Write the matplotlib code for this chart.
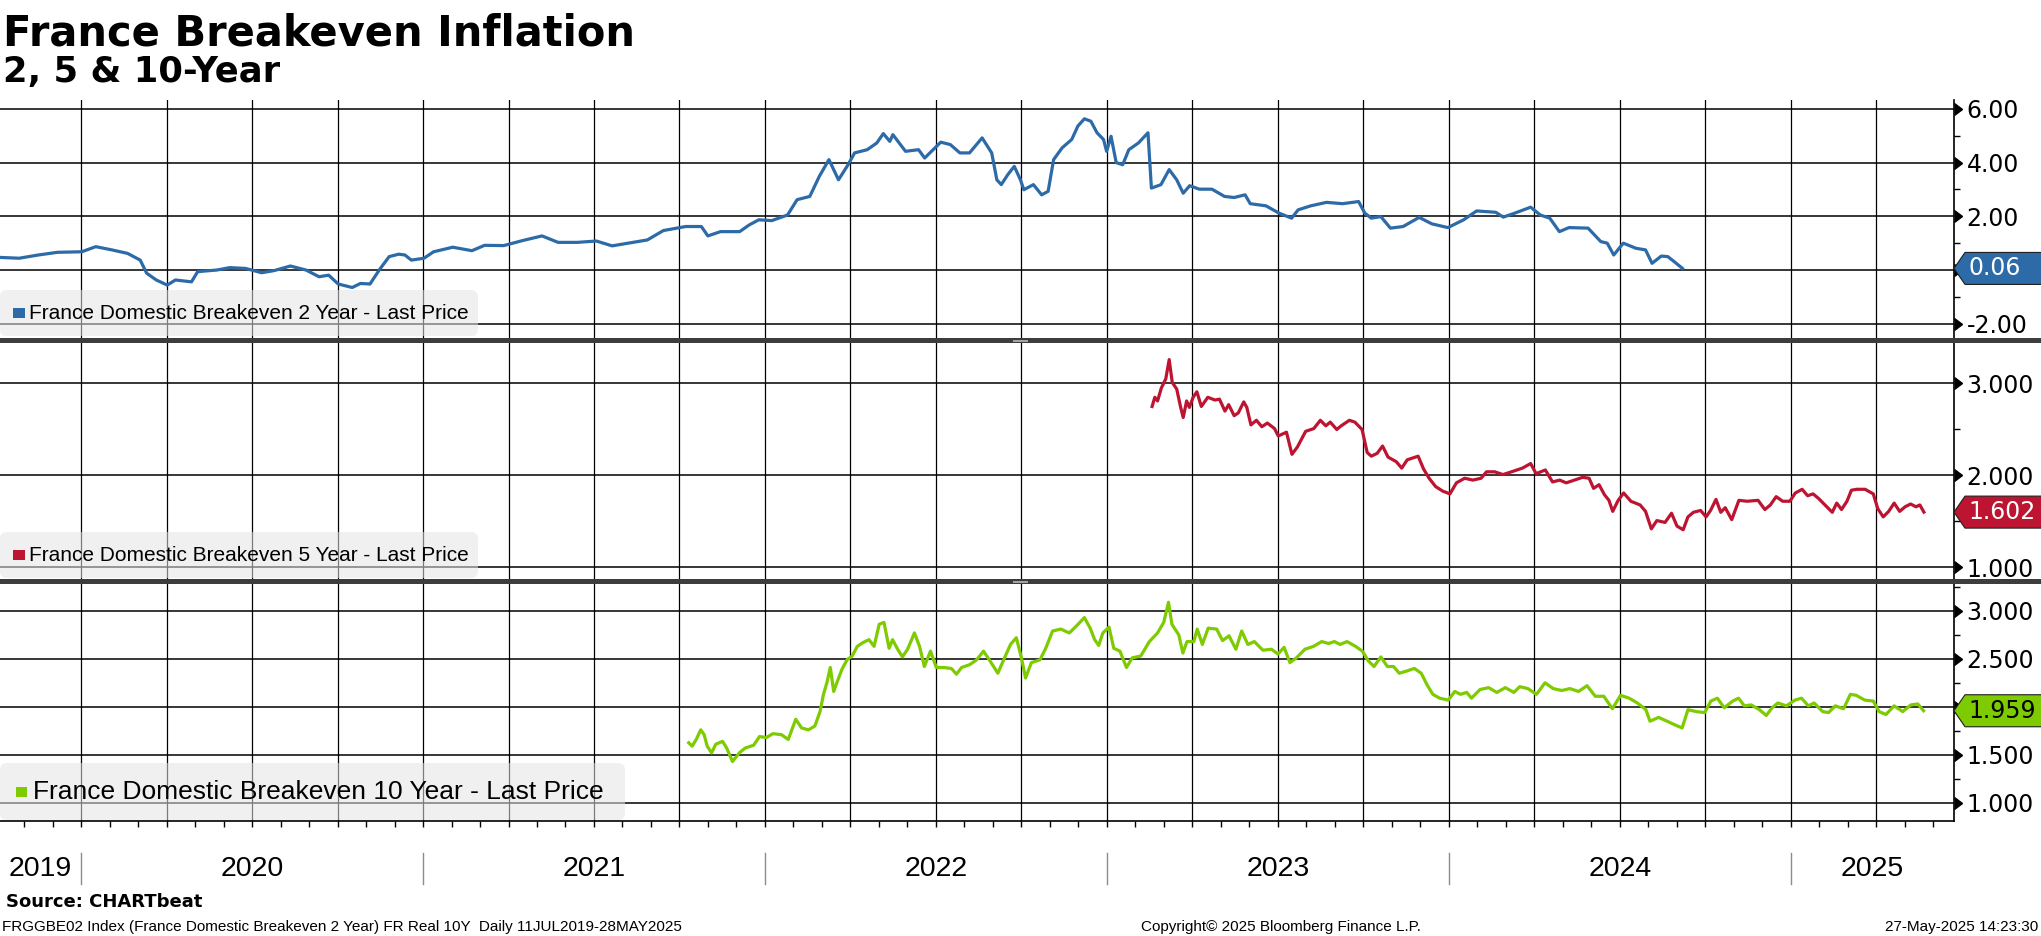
import matplotlib
matplotlib.use("Agg")
import matplotlib.pyplot as plt
from matplotlib.patches import Polygon, Rectangle, FancyBboxPatch
from matplotlib.lines import Line2D
from matplotlib.transforms import blended_transform_factory, IdentityTransform
from matplotlib.ticker import MultipleLocator, FuncFormatter

W, H = 2041, 936
NARROW = ["Liberation Sans", "DejaVu Sans"]

title = "France Breakeven Inflation"
subtitle = "2, 5 & 10-Year"
source = "Source: CHARTbeat"
footer_left = "FRGGBE02 Index (France Domestic Breakeven 2 Year) FR Real 10Y  Daily 11JUL2019-28MAY2025"
footer_mid = "Copyright\u00a9 2025 Bloomberg Finance L.P."
footer_right = "27-May-2025 14:23:30"

x_start, x_end = 2019.763, 2025.477
years = [2019, 2020, 2021, 2022, 2023, 2024, 2025]

# (decimal year, value)
be2 = [(2019.763, 0.47), (2019.819, 0.44), (2019.875, 0.56), (2019.931, 0.66), (2020.002, 0.68),
       (2020.043, 0.87), (2020.090, 0.75), (2020.136, 0.62), (2020.173, 0.37), (2020.192, -0.12),
       (2020.220, -0.37), (2020.252, -0.56), (2020.276, -0.37), (2020.323, -0.44), (2020.341, -0.06),
       (2020.397, 0.00), (2020.435, 0.09), (2020.481, 0.06), (2020.528, -0.10), (2020.565, -0.02),
       (2020.612, 0.15), (2020.658, 0.00), (2020.696, -0.25), (2020.724, -0.19), (2020.752, -0.52),
       (2020.793, -0.65), (2020.817, -0.50), (2020.845, -0.52), (2020.873, 0.02), (2020.901, 0.50),
       (2020.929, 0.59), (2020.947, 0.56), (2020.966, 0.37), (2021.003, 0.44), (2021.031, 0.68),
       (2021.087, 0.85), (2021.143, 0.72), (2021.180, 0.92), (2021.236, 0.91), (2021.292, 1.10),
       (2021.348, 1.27), (2021.395, 1.03), (2021.451, 1.03), (2021.507, 1.08), (2021.553, 0.90),
       (2021.609, 1.02), (2021.656, 1.12), (2021.703, 1.47), (2021.768, 1.62), (2021.814, 1.62),
       (2021.833, 1.27), (2021.870, 1.43), (2021.926, 1.43), (2021.954, 1.68), (2021.982, 1.87),
       (2022.020, 1.84), (2022.066, 2.05), (2022.094, 2.62), (2022.131, 2.74), (2022.159, 3.49),
       (2022.187, 4.11), (2022.215, 3.36), (2022.243, 3.92), (2022.262, 4.36), (2022.299, 4.48),
       (2022.327, 4.73), (2022.346, 5.08), (2022.365, 4.79), (2022.374, 5.04), (2022.411, 4.42),
       (2022.449, 4.48), (2022.467, 4.17), (2022.514, 4.76), (2022.542, 4.67), (2022.570, 4.36),
       (2022.598, 4.36), (2022.635, 4.92), (2022.663, 4.36), (2022.678, 3.36), (2022.691, 3.18),
       (2022.710, 3.55), (2022.729, 3.86), (2022.747, 3.36), (2022.757, 2.99), (2022.785, 3.18),
       (2022.809, 2.80), (2022.828, 2.93), (2022.844, 4.11), (2022.869, 4.55), (2022.897, 4.86),
       (2022.915, 5.36), (2022.934, 5.63), (2022.953, 5.54), (2022.971, 5.11), (2022.990, 4.86),
       (2022.999, 4.42), (2023.012, 4.98), (2023.027, 4.00), (2023.046, 3.92), (2023.064, 4.48),
       (2023.092, 4.73), (2023.120, 5.11), (2023.130, 3.05), (2023.158, 3.18), (2023.182, 3.74),
       (2023.204, 3.36), (2023.223, 2.86), (2023.242, 3.14), (2023.270, 3.01), (2023.307, 3.01),
       (2023.344, 2.74), (2023.372, 2.70), (2023.404, 2.80), (2023.419, 2.47), (2023.465, 2.39),
       (2023.503, 2.12), (2023.540, 1.93), (2023.559, 2.24), (2023.596, 2.39), (2023.642, 2.52),
       (2023.689, 2.47), (2023.736, 2.55), (2023.754, 2.12), (2023.773, 1.93), (2023.801, 1.99),
       (2023.829, 1.56), (2023.866, 1.62), (2023.913, 1.96), (2023.950, 1.72), (2023.997, 1.58),
       (2024.043, 1.87), (2024.081, 2.20), (2024.137, 2.15), (2024.159, 1.97), (2024.193, 2.12),
       (2024.239, 2.34), (2024.267, 2.05), (2024.295, 1.93), (2024.323, 1.43), (2024.351, 1.58),
       (2024.407, 1.56), (2024.444, 1.06), (2024.463, 1.00), (2024.482, 0.56), (2024.510, 1.00),
       (2024.547, 0.81), (2024.575, 0.75), (2024.594, 0.25), (2024.621, 0.52), (2024.640, 0.50),
       (2024.659, 0.31), (2024.683, 0.06)]

be5 = [(2023.132, 2.75), (2023.140, 2.85), (2023.148, 2.81), (2023.159, 2.95), (2023.172, 3.05),
       (2023.182, 3.26), (2023.191, 3.01), (2023.204, 2.94), (2023.215, 2.75), (2023.223, 2.63),
       (2023.233, 2.81), (2023.241, 2.74), (2023.252, 2.85), (2023.263, 2.91), (2023.276, 2.75),
       (2023.295, 2.85), (2023.316, 2.82), (2023.329, 2.83), (2023.345, 2.70), (2023.356, 2.77),
       (2023.372, 2.65), (2023.384, 2.68), (2023.400, 2.80), (2023.409, 2.74), (2023.421, 2.55),
       (2023.437, 2.60), (2023.453, 2.53), (2023.469, 2.57), (2023.490, 2.51), (2023.501, 2.43),
       (2023.525, 2.47), (2023.541, 2.23), (2023.557, 2.31), (2023.581, 2.48), (2023.605, 2.51),
       (2023.624, 2.60), (2023.640, 2.54), (2023.653, 2.58), (2023.672, 2.50), (2023.685, 2.54),
       (2023.709, 2.60), (2023.725, 2.58), (2023.746, 2.50), (2023.761, 2.25), (2023.773, 2.21),
       (2023.790, 2.24), (2023.806, 2.32), (2023.822, 2.20), (2023.846, 2.15), (2023.862, 2.08),
       (2023.878, 2.17), (2023.894, 2.19), (2023.910, 2.21), (2023.926, 2.07), (2023.942, 1.97),
       (2023.961, 1.88), (2023.982, 1.83), (2024.003, 1.80), (2024.022, 1.92), (2024.046, 1.97),
       (2024.070, 1.95), (2024.094, 1.97), (2024.110, 2.04), (2024.134, 2.04), (2024.158, 2.01),
       (2024.183, 2.04), (2024.215, 2.08), (2024.239, 2.13), (2024.255, 2.02), (2024.282, 2.06),
       (2024.303, 1.93), (2024.324, 1.95), (2024.343, 1.92), (2024.367, 1.95), (2024.391, 1.98),
       (2024.410, 1.97), (2024.423, 1.86), (2024.439, 1.90), (2024.455, 1.79), (2024.468, 1.73),
       (2024.479, 1.61), (2024.495, 1.73), (2024.511, 1.81), (2024.532, 1.72), (2024.559, 1.68),
       (2024.575, 1.61), (2024.592, 1.42), (2024.608, 1.51), (2024.632, 1.49), (2024.651, 1.59),
       (2024.667, 1.45), (2024.685, 1.41), (2024.699, 1.55), (2024.715, 1.60), (2024.736, 1.62),
       (2024.752, 1.55), (2024.765, 1.62), (2024.781, 1.74), (2024.795, 1.60), (2024.808, 1.65),
       (2024.827, 1.52), (2024.848, 1.73), (2024.872, 1.72), (2024.904, 1.73), (2024.924, 1.63),
       (2024.940, 1.68), (2024.957, 1.77), (2024.976, 1.72), (2024.997, 1.72), (2025.013, 1.81),
       (2025.033, 1.85), (2025.049, 1.78), (2025.065, 1.80), (2025.081, 1.75), (2025.105, 1.66),
       (2025.121, 1.60), (2025.134, 1.70), (2025.148, 1.63), (2025.164, 1.72), (2025.177, 1.84),
       (2025.193, 1.85), (2025.217, 1.85), (2025.241, 1.80), (2025.254, 1.64), (2025.270, 1.55),
       (2025.286, 1.61), (2025.302, 1.70), (2025.318, 1.61), (2025.334, 1.66), (2025.350, 1.69),
       (2025.366, 1.66), (2025.377, 1.68), (2025.389, 1.602)]

be10 = [(2021.777, 1.625), (2021.787, 1.59), (2021.799, 1.66), (2021.812, 1.76), (2021.822, 1.71),
        (2021.831, 1.59), (2021.844, 1.52), (2021.856, 1.61), (2021.876, 1.64), (2021.888, 1.57),
        (2021.905, 1.43), (2021.925, 1.52), (2021.942, 1.57), (2021.967, 1.60), (2021.984, 1.69),
        (2022.004, 1.68), (2022.023, 1.72), (2022.048, 1.71), (2022.068, 1.66), (2022.090, 1.87),
        (2022.107, 1.78), (2022.127, 1.76), (2022.146, 1.80), (2022.161, 1.95), (2022.171, 2.13),
        (2022.181, 2.25), (2022.191, 2.41), (2022.201, 2.16), (2022.210, 2.25), (2022.225, 2.39),
        (2022.240, 2.49), (2022.255, 2.53), (2022.270, 2.63), (2022.287, 2.67), (2022.304, 2.70),
        (2022.319, 2.63), (2022.334, 2.86), (2022.348, 2.88), (2022.363, 2.61), (2022.373, 2.70),
        (2022.388, 2.60), (2022.402, 2.52), (2022.417, 2.60), (2022.437, 2.77), (2022.452, 2.63),
        (2022.466, 2.42), (2022.484, 2.58), (2022.501, 2.41), (2022.521, 2.41), (2022.545, 2.40),
        (2022.560, 2.34), (2022.575, 2.41), (2022.599, 2.44), (2022.619, 2.49), (2022.639, 2.58),
        (2022.656, 2.49), (2022.681, 2.35), (2022.698, 2.49), (2022.718, 2.65), (2022.735, 2.72),
        (2022.750, 2.51), (2022.762, 2.30), (2022.779, 2.46), (2022.804, 2.49), (2022.821, 2.61),
        (2022.841, 2.79), (2022.865, 2.81), (2022.890, 2.77), (2022.910, 2.84), (2022.934, 2.93),
        (2022.951, 2.82), (2022.964, 2.70), (2022.976, 2.64), (2022.988, 2.77), (2023.006, 2.83),
        (2023.020, 2.61), (2023.038, 2.58), (2023.057, 2.41), (2023.074, 2.51), (2023.099, 2.53),
        (2023.124, 2.68), (2023.148, 2.77), (2023.166, 2.88), (2023.180, 3.09), (2023.190, 2.86),
        (2023.210, 2.75), (2023.222, 2.56), (2023.234, 2.68), (2023.254, 2.68), (2023.264, 2.81),
        (2023.279, 2.65), (2023.296, 2.82), (2023.321, 2.81), (2023.338, 2.69), (2023.357, 2.74),
        (2023.377, 2.60), (2023.394, 2.79), (2023.412, 2.65), (2023.431, 2.68), (2023.456, 2.59),
        (2023.481, 2.60), (2023.500, 2.55), (2023.518, 2.62), (2023.535, 2.46), (2023.554, 2.51),
        (2023.579, 2.60), (2023.604, 2.63), (2023.628, 2.68), (2023.648, 2.66), (2023.665, 2.68),
        (2023.682, 2.65), (2023.702, 2.68), (2023.727, 2.63), (2023.747, 2.58), (2023.764, 2.48),
        (2023.781, 2.42), (2023.801, 2.52), (2023.820, 2.42), (2023.838, 2.42), (2023.855, 2.35),
        (2023.874, 2.37), (2023.899, 2.40), (2023.919, 2.35), (2023.936, 2.23), (2023.953, 2.13),
        (2023.973, 2.09), (2023.998, 2.07), (2024.017, 2.16), (2024.034, 2.13), (2024.052, 2.15),
        (2024.066, 2.09), (2024.091, 2.18), (2024.116, 2.20), (2024.140, 2.15), (2024.165, 2.20),
        (2024.190, 2.15), (2024.207, 2.21), (2024.231, 2.19), (2024.256, 2.13), (2024.281, 2.25),
        (2024.305, 2.19), (2024.330, 2.17), (2024.354, 2.19), (2024.379, 2.16), (2024.404, 2.22),
        (2024.428, 2.11), (2024.453, 2.11), (2024.478, 1.98), (2024.502, 2.12), (2024.527, 2.09),
        (2024.551, 2.04), (2024.576, 1.97), (2024.588, 1.85), (2024.613, 1.89), (2024.638, 1.85),
        (2024.662, 1.81), (2024.682, 1.78), (2024.699, 1.97), (2024.724, 1.95), (2024.748, 1.94),
        (2024.766, 2.06), (2024.785, 2.09), (2024.805, 1.99), (2024.830, 2.06), (2024.847, 2.09),
        (2024.864, 2.01), (2024.884, 2.02), (2024.908, 1.97), (2024.928, 1.91), (2024.945, 1.99),
        (2024.962, 2.04), (2024.987, 2.01), (2025.012, 2.07), (2025.031, 2.09), (2025.051, 2.01),
        (2025.068, 2.04), (2025.093, 1.95), (2025.110, 1.94), (2025.130, 2.01), (2025.154, 1.98),
        (2025.174, 2.13), (2025.191, 2.12), (2025.216, 2.07), (2025.241, 2.06), (2025.258, 1.95),
        (2025.278, 1.92), (2025.302, 2.01), (2025.327, 1.95), (2025.351, 2.02), (2025.371, 2.03),
        (2025.388, 1.959)]

series = [
    dict(data=be2, color="#2c6aa8", ylim=(-2.53, 6.33), major=2.0, minor=1.0, fmt="%.2f",
         label="France Domestic Breakeven 2 Year - Last Price", tag_fg="white"),
    dict(data=be5, color="#bd1431", ylim=(0.875, 3.44), major=1.0, minor=0.5, fmt="%.3f",
         label="France Domestic Breakeven 5 Year - Last Price", tag_fg="white"),
    dict(data=be10, color="#7dcb00", ylim=(0.81, 3.28), major=0.5, minor=0.25, fmt="%.3f",
         label="France Domestic Breakeven 10 Year - Last Price", tag_fg="black"),
]

# pixel layout (measured from top-left)
panel_px = [(100, 338), (343, 579), (584, 821)]
axis_right = 1954
legend_px = [
    dict(box=(0, 290, 478, 336), mark=(13, 308, 25, 318), text=(29, 313.5), size=15),
    dict(box=(0, 532, 478, 578), mark=(13, 550, 25, 560), text=(29, 555.5), size=15),
    dict(box=(0, 763, 625, 820), mark=(16, 787, 27, 797), text=(33, 792), size=19),
]

fig = plt.figure(figsize=(W / 100, H / 100), dpi=100)
fig.patch.set_facecolor("white")
pix = IdentityTransform()


def tick_fmt(fmt, hide, step):
    # blank the label that sits under the last-value tag
    def f(v, pos):
        return "" if abs(v - hide) < step * 0.3 else fmt % v
    return FuncFormatter(f)


axes = []
for (top, bot), s, leg in zip(panel_px, series, legend_px):
    ax = fig.add_axes([0, 1 - bot / H, axis_right / W, (bot - top) / H])
    xs = [p[0] for p in s["data"]]
    ys = [p[1] for p in s["data"]]
    last = ys[-1]
    ax.plot(xs, ys, color=s["color"], lw=2.3, solid_joinstyle="round", zorder=3)
    ax.set_xlim(x_start, x_end)
    ax.set_ylim(*s["ylim"])
    ax.yaxis.tick_right()
    ax.yaxis.set_major_locator(MultipleLocator(s["major"]))
    ax.yaxis.set_minor_locator(MultipleLocator(s["minor"]))
    ax.yaxis.set_major_formatter(tick_fmt(s["fmt"], last, s["major"]))
    ax.xaxis.set_major_locator(MultipleLocator(0.25))
    ax.xaxis.set_minor_locator(MultipleLocator(1 / 12))
    ax.grid(True, which="major", axis="y", color="black", lw=1.1)
    ax.grid(True, which="major", axis="x", color="black", lw=0.9)
    ax.set_axisbelow(True)
    for side in ["left", "top", "bottom"]:
        ax.spines[side].set_visible(False)
    ax.spines["right"].set_linewidth(1.2)
    ax.tick_params(axis="y", which="major", length=0, pad=9, labelsize=17)
    ax.tick_params(axis="y", which="minor", length=4, width=1, direction="out")
    ax.tick_params(axis="x", which="both", length=0, labelbottom=False)

    # caret-style major ticks on the right axis
    lo, hi = s["ylim"]
    ticks = [t for t in ax.get_yticks() if lo <= t <= hi]
    trans = blended_transform_factory(ax.transAxes, ax.transData)
    ax.plot([1.0] * len(ticks), ticks, ls="none", marker=9, ms=8, color="black",
            transform=trans, clip_on=False, zorder=5)

    # last value tag
    yd = ax.transData.transform((x_end, last))[1]
    xd = ax.transAxes.transform((1, 0))[0]
    verts = [(xd, yd), (xd + 11, yd + 16), (W + 5, yd + 16), (W + 5, yd - 16), (xd + 11, yd - 16)]
    fig.add_artist(Polygon(verts, closed=True, facecolor=s["color"], edgecolor="#202020",
                           lw=0.8, transform=pix, zorder=6))
    fig.text((xd + 14) / W, yd / H, s["fmt"] % last, ha="left", va="center",
             fontsize=17, color=s["tag_fg"], zorder=7)

    # legend box
    bx0, bt, bx1, bb = leg["box"]
    fig.add_artist(FancyBboxPatch((bx0, H - bb), bx1 - bx0, bb - bt,
                                  boxstyle="round,pad=0,rounding_size=7",
                                  facecolor="#e4e4e4", alpha=0.55, edgecolor="none",
                                  transform=pix, zorder=4))
    mx0, mt, mx1, mb = leg["mark"]
    fig.add_artist(Rectangle((mx0, H - mb), mx1 - mx0, mb - mt, facecolor=s["color"],
                             edgecolor="none", transform=pix, zorder=5))
    tx, ty = leg["text"]
    fig.text(tx / W, 1 - ty / H, s["label"], ha="left", va="center",
             fontsize=leg["size"], family=NARROW, zorder=5)
    axes.append(ax)

ax3 = axes[-1]
ax3.spines["bottom"].set_visible(True)
ax3.spines["bottom"].set_linewidth(1.2)
ax3.tick_params(axis="x", which="both", length=4, width=1, direction="out", labelbottom=False)

# panel separators
for ytop in [338, 579]:
    fig.add_artist(Rectangle((0, 1 - (ytop + 5) / H), 1, 5 / H, facecolor="#3d3d3d",
                             edgecolor="none", transform=fig.transFigure, zorder=8))
    for dy in [1.8, 3.4]:
        fig.add_artist(Line2D([1013 / W, 1027 / W], [1 - (ytop + dy) / H] * 2,
                              color="#a8a8a8", lw=0.7, zorder=9))

# year labels along the bottom
for yr in years:
    lo, hi = max(yr, x_start), min(yr + 1, x_end)
    if hi <= lo:
        continue
    xc = ax3.transData.transform(((lo + hi) / 2, 0))[0]
    fig.text(xc / W, 1 - 869 / H, str(yr), ha="center", va="center", fontsize=20.5, family=NARROW)
    if x_start < yr < x_end:
        xb = ax3.transData.transform((yr, 0))[0] / W
        fig.add_artist(Line2D([xb, xb], [1 - 853 / H, 1 - 884 / H], color="#8c8c8c", lw=1))

fig.text(3 / W, 1 - 45 / H, title, fontsize=30, fontweight="bold", ha="left", va="baseline")
fig.text(3 / W, 1 - 82 / H, subtitle, fontsize=25.5, fontweight="bold", ha="left", va="baseline")
fig.text(6 / W, 1 - 902 / H, source, fontsize=13, fontweight="bold", ha="left", va="center")
fig.text(2 / W, 1 - 927 / H, footer_left, fontsize=11, family=NARROW, ha="left", va="center")
fig.text(1281 / W, 1 - 927 / H, footer_mid, fontsize=11, family=NARROW, ha="center", va="center")
fig.text(2038 / W, 1 - 927 / H, footer_right, fontsize=11, family=NARROW, ha="right", va="center")

fig.savefig("out.png", dpi=100)
